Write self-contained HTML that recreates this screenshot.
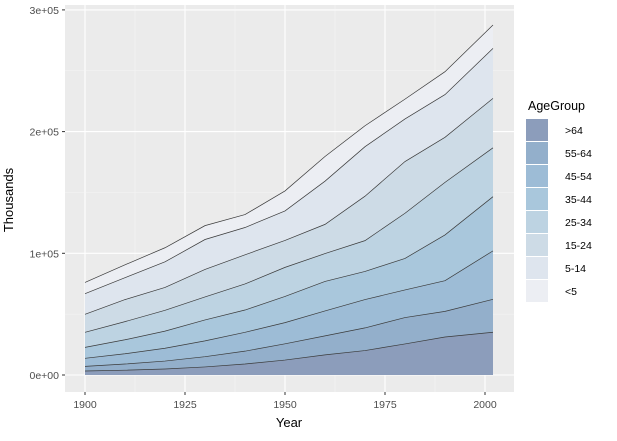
<!DOCTYPE html>
<html><head><meta charset="utf-8"><style>
body{margin:0;background:#fff;font-family:"Liberation Sans",sans-serif;}
</style></head><body>
<svg id="chart" width="617" height="436" xmlns="http://www.w3.org/2000/svg">
<rect x="65" y="5" width="449" height="387" fill="#ebebeb"/>
<g id="grid"></g>
<g id="areas"></g>
<g id="axes"></g>
<text x="13" y="200" transform="rotate(-90 13 200)" text-anchor="middle" font-size="13" fill="#000">Thousands</text>
<text x="289" y="427" text-anchor="middle" font-size="13" fill="#000">Year</text>
<g id="legend">
<text x="528" y="110" font-size="12.5" fill="#000">AgeGroup</text>
</g>
</svg>
<script>
const years=[1900,1910,1920,1930,1940,1950,1960,1970,1980,1990,2002];
const groups=[">64","55-64","45-54","35-44","25-34","15-24","5-14","<5"];
const s_over64=[3.3,3.95,4.93,6.63,9.02,12.27,16.56,20.1,25.5,31.2,35.1];
const s_55_64=[3.8,5.06,6.53,8.4,10.57,13.37,15.6,18.6,21.7,21.1,27.1];
const s_45_54=[6.6,8.44,10.5,13.0,15.5,17.4,20.5,23.3,22.7,25.2,39.8];
const s_35_44=[9.0,11.5,14.1,17.2,18.3,21.5,24.2,23.1,25.9,37.6,44.5];
const s_25_34=[12.4,14.9,17.1,18.9,21.4,23.9,22.9,25.3,37.1,43.2,40.2];
const s_15_24=[14.8,18.1,18.8,22.6,24.0,22.1,24.0,36.5,42.5,37.0,40.6];
const s_5_14=[16.9,18.0,21.0,24.6,22.4,24.3,35.5,40.7,35.0,35.1,41.1];
const s_under5=[9.3,10.6,11.6,11.4,10.6,16.4,20.3,17.2,16.3,18.8,19.2];
const series=[s_over64,s_55_64,s_45_54,s_35_44,s_25_34,s_15_24,s_5_14,s_under5];
const colors=["#8c9dbb","#93afcb","#9dbcd6","#a9c7dc","#bdd3e2","#cddbe6","#dee5ee","#eceef3"];
const xTicks=[1900,1925,1950,1975,2000];
const yTicks=[0,100,200,300];
const yTickLabels=["0e+00","1e+05","2e+05","3e+05"];
const X=y=>85+(y-1900)*4;
const Y=v=>375-v*1.217;
const NS="http://www.w3.org/2000/svg";
function mk(tag,attrs,parent){const e=document.createElementNS(NS,tag);for(const k in attrs)e.setAttribute(k,attrs[k]);parent.appendChild(e);return e;}
const grid=document.getElementById('grid');
xTicks.forEach((t,i)=>{
  const l=mk('line',{x1:X(t),x2:X(t),y1:5,y2:392,stroke:'#fff','stroke-width':1.1},grid);
  
  
  if(i<xTicks.length-1){const m=mk('line',{x1:X(t+12.5),x2:X(t+12.5),y1:5,y2:392,stroke:'#f5f5f5','stroke-width':0.5},grid);
  
  }
});
yTicks.forEach((t,i)=>{
  const l=mk('line',{x1:65,x2:514,y1:Y(t),y2:Y(t),stroke:'#fff','stroke-width':1.1},grid);
  
  
  if(i<yTicks.length-1){const m=mk('line',{x1:65,x2:514,y1:Y(t+50),y2:Y(t+50),stroke:'#f5f5f5','stroke-width':0.5},grid);
  
  }
});
const areas=document.getElementById('areas');
let base=years.map(()=>0);
const tops=[];
series.forEach((s,gi)=>{
  const top=base.map((b,i)=>b+s[i]);
  let d='M'+years.map((y,i)=>X(y)+','+Y(top[i])).join(' L');
  for(let i=years.length-1;i>=0;i--)d+=' L'+X(years[i])+','+Y(base[i]);
  const p=mk('path',{d:d+'Z',fill:colors[gi]},areas);
  
  
  tops.push(top);base=top;
});
tops.forEach((top,gi)=>{
  const l=mk('polyline',{points:years.map((y,i)=>X(y)+','+Y(top[i])).join(' '),fill:'none',stroke:'#3a3a3a','stroke-width':0.7},areas);
  
  
});
const axes=document.getElementById('axes');
xTicks.forEach(t=>{
  const k=mk('line',{x1:X(t),x2:X(t),y1:392,y2:395,stroke:'#333'},axes);
  
  
  const tx=mk('text',{x:X(t),y:408,'text-anchor':'middle','font-size':10.5,fill:'#4d4d4d'},axes);
  tx.textContent=t;
  
  
});
yTicks.forEach((t,i)=>{
  const k=mk('line',{x1:62,x2:65,y1:Y(t),y2:Y(t),stroke:'#333'},axes);
  
  
  const tx=mk('text',{x:59,y:Y(t)+4,'text-anchor':'end','font-size':10.5,fill:'#4d4d4d'},axes);
  tx.textContent=yTickLabels[i];
  
  
});
const legend=document.getElementById('legend');
groups.forEach((g,i)=>{
  const y0=119+i*23;
  const r=mk('rect',{x:526,y:y0,width:22,height:22,fill:colors[i]},legend);
  
  
  const t=mk('text',{x:565,y:y0+15,'font-size':10.5,fill:'#000'},legend);
  t.textContent=g;
  
  
});
</script>
</body></html>
